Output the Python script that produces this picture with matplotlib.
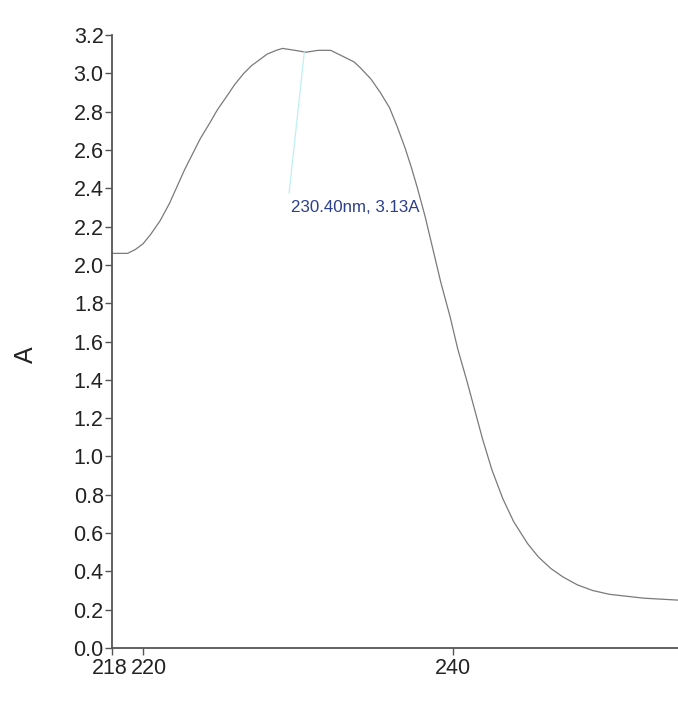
import matplotlib
matplotlib.use("Agg")
import matplotlib.pyplot as plt
import matplotlib.transforms as mtransforms

plt.rcParams['font.family'] = ['Liberation Sans', 'DejaVu Sans']

wavelength = [218.0, 218.5, 219.0, 219.5, 220.0, 220.5, 221.1, 221.7, 222.2, 222.7, 223.2,
              223.7, 224.3, 224.8, 225.4, 225.9, 226.5, 227.0, 227.5, 228.0, 228.6,
              229.0, 229.8, 230.5, 231.3, 232.1, 232.6, 233.1, 233.6, 234.0, 234.7,
              235.3, 235.9, 236.4, 236.9, 237.3, 237.7, 238.2, 238.7, 239.2, 239.8,
              240.3, 240.9, 241.4, 241.9, 242.5, 243.2, 243.9, 244.8, 245.5, 246.3,
              247.1, 248.0, 249.0, 250.1, 251.2, 252.3, 253.4, 254.5]
absorbance = [2.06, 2.06, 2.06, 2.08, 2.11, 2.16, 2.23, 2.32, 2.41, 2.50, 2.58,
              2.66, 2.74, 2.81, 2.88, 2.94, 3.00, 3.04, 3.07, 3.10, 3.12,
              3.13, 3.12, 3.11, 3.12, 3.12, 3.10, 3.08, 3.06, 3.03, 2.97,
              2.90, 2.82, 2.72, 2.61, 2.51, 2.40, 2.25, 2.08, 1.91, 1.73,
              1.56, 1.39, 1.24, 1.09, 0.93, 0.78, 0.66, 0.545, 0.475, 0.415,
              0.37, 0.33, 0.30, 0.28, 0.27, 0.26, 0.255, 0.25]

peak_x, peak_y = 230.40, 3.11
line_end_x, line_end_y = 229.42, 2.375
label_x, label_y = 229.55, 2.30
peak_label = "230.40nm, 3.13A"

xticks = [218, 220, 240]
yticks = [0.0, 0.2, 0.4, 0.6, 0.8, 1.0, 1.2, 1.4, 1.6, 1.8, 2.0, 2.2, 2.4, 2.6, 2.8, 3.0, 3.2]

fig = plt.figure(figsize=(6.78, 7.11), dpi=100)
ax = fig.add_axes([112/678, 63/711, 1 - 112/678, (648 - 35)/711])

ax.plot(wavelength, absorbance, color='#7a7a7a', lw=0.9)
ax.plot([peak_x, line_end_x], [peak_y, line_end_y], color='#bff0f0', lw=0.9)
ax.text(label_x, label_y, peak_label, color='#2b3f8c', fontsize=12.2,
        ha='left', va='center')

ax.set_xlim(218, 254.5)
ax.set_ylim(0, 3.2)
ax.set_xticks(xticks)
ax.set_xticklabels([str(t) for t in xticks])
ax.set_yticks(yticks)
ax.set_yticklabels([f"{t:.1f}" for t in yticks])

for s in ['top', 'right']:
    ax.spines[s].set_visible(False)
for s in ['left', 'bottom']:
    ax.spines[s].set_color('#555555')
    ax.spines[s].set_linewidth(1.3)

ax.tick_params(axis='both', length=5, width=1.0, color='#555555',
               labelcolor='#222222', pad=1)
ax.tick_params(axis='y', labelsize=15.5)
ax.tick_params(axis='x', labelsize=15.5, pad=2)

# shift labels so 218 and 220 sit side by side as in the reference
xlabels = ax.get_xticklabels()
xlabels[0].set_transform(xlabels[0].get_transform() +
                         mtransforms.ScaledTranslation(-2/100, 0, fig.dpi_scale_trans))
xlabels[1].set_transform(xlabels[1].get_transform() +
                         mtransforms.ScaledTranslation(6/100, 0, fig.dpi_scale_trans))

fig.text(26/678, 1 - 355/711, 'A', rotation=90, fontsize=18,
         ha='center', va='center', color='#222222')

fig.savefig('out.png', dpi=100, facecolor='white')
